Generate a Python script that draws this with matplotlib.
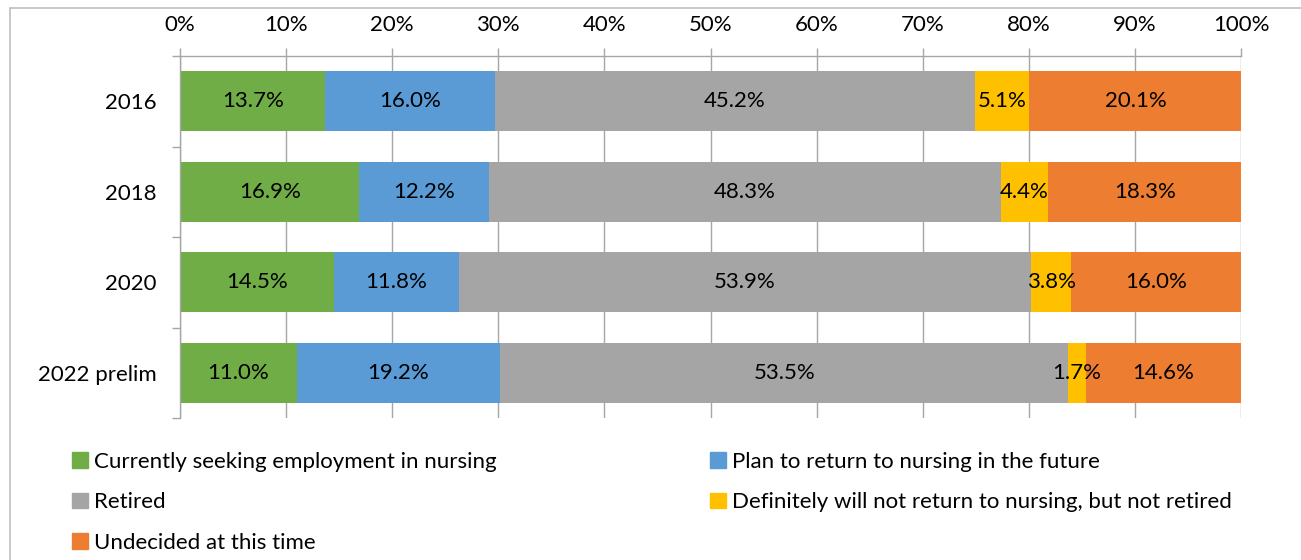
import matplotlib.pyplot as plt
from matplotlib.patches import Patch, Rectangle

plt.rcParams['font.family'] = ['Lato', 'DejaVu Sans']

years = ["2016", "2018", "2020", "2022 prelim"]
series = [
    "Currently seeking employment in nursing",
    "Plan to return to nursing in the future",
    "Retired",
    "Definitely will not return to nursing, but not retired",
    "Undecided at this time",
]
seeking = [13.7, 16.9, 14.5, 11.0]
plan_return = [16.0, 12.2, 11.8, 19.2]
retired = [45.2, 48.3, 53.9, 53.5]
not_return = [5.1, 4.4, 3.8, 1.7]
undecided = [20.1, 18.3, 16.0, 14.6]
colors = ["#70AD47", "#5B9BD5", "#A5A5A5", "#FFC000", "#ED7D31"]
grid_col = "#A6A6A6"
fs = 16

fig = plt.figure(figsize=(13.01, 5.60), dpi=100)
ax = fig.add_axes([180 / 1301, 1 - 418 / 560, 1061 / 1301, 362 / 560])

pos = list(range(len(years)))
left = [0.0] * len(years)
for name, vals, c in zip(series, [seeking, plan_return, retired, not_return, undecided], colors):
    bars = ax.barh(pos, vals, left=left, height=0.667, color=c, label=name, zorder=2)
    for b, v in zip(bars, vals):
        ax.text(b.get_x() + b.get_width() / 2, b.get_y() + b.get_height() / 2,
                f"{v:.1f}%", ha="center", va="center", fontsize=fs, color="black", zorder=3)
    left = [l + v for l, v in zip(left, vals)]

ax.set_xlim(0, 100)
ax.set_ylim(len(years) - 0.5, -0.5)
ax.set_xticks(range(0, 101, 10))
ax.set_xticklabels([f"{t}%" for t in range(0, 101, 10)])
ax.set_yticks(pos)
ax.set_yticklabels(years)
ax.set_yticks([p - 0.5 for p in pos] + [len(years) - 0.5], minor=True)
ax.xaxis.tick_top()
ax.tick_params(axis="x", which="major", length=6, width=1, color=grid_col, pad=9, labelsize=fs)
ax.tick_params(axis="y", which="major", length=0, pad=17, labelsize=fs)
ax.tick_params(axis="y", which="minor", length=5.5, width=1, color=grid_col)
ax.grid(axis="x", color=grid_col, linewidth=1, zorder=0)
ax.set_axisbelow(True)
for s in ["right", "bottom"]:
    ax.spines[s].set_visible(False)
for s in ["top", "left"]:
    ax.spines[s].set_color(grid_col)
    ax.spines[s].set_linewidth(1)

# legend: two columns, filled column-wise, so reorder to read row by row
handles = [Patch(color=c) for c in colors]
order = [0, 2, 4, 1, 3]
fig.legend([handles[i] for i in order], [series[i] for i in order],
           loc="upper left", bbox_to_anchor=(72 / 1301, 1 - 452 / 560), ncol=2,
           frameon=False, fontsize=fs, handlelength=0.7, handleheight=0.7,
           handletextpad=0.3, labelspacing=0.92, columnspacing=9.6,
           borderpad=0, borderaxespad=0)

fig.patches.append(Rectangle((10 / 1301, -0.1), 1.2, 1 - 8 / 560 + 0.1,
                             transform=fig.transFigure, fill=False,
                             edgecolor="#BFBFBF", linewidth=1.2))

fig.savefig("out.png", dpi=100)
